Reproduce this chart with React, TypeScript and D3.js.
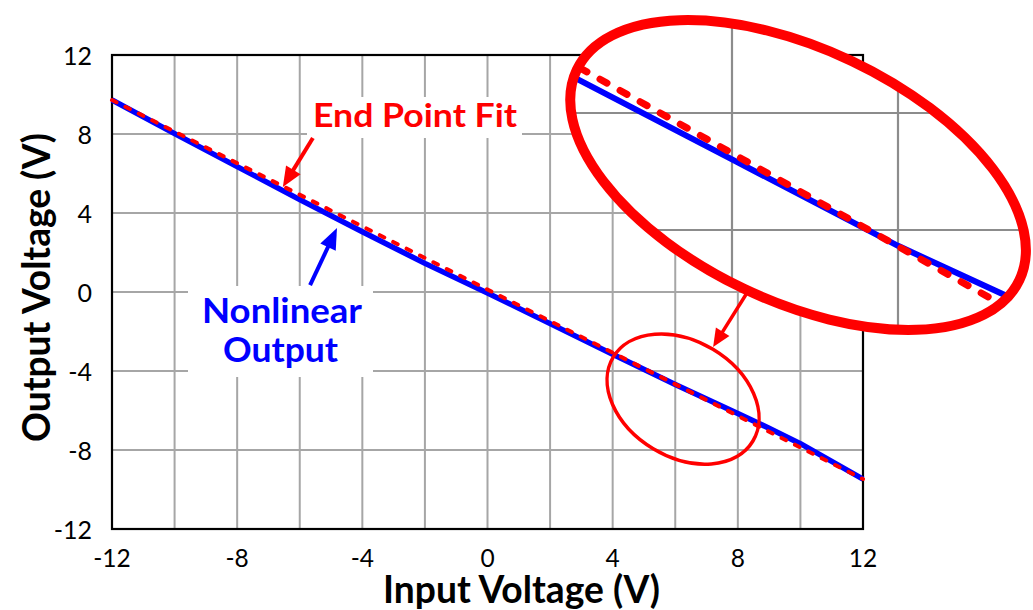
import React from 'react';
import * as d3 from 'd3';

const W = 1033;
const H = 610;

// Main chart data
const inputV = [-12, -10, -8, -6, -4, -2, 0, 2, 4, 6, 8, 9, 10, 12];
const nonlinearOut = [9.72, 8.02, 6.35, 4.68, 3.05, 1.45, -0.05, -1.6, -3.15, -4.68, -6.15, -6.9, -7.68, -9.47];
const fitInput = [-12, 12];
const fitOut = [9.72, -9.47];

const xTicks = [-12, -8, -4, 0, 4, 8, 12];
const yTicks = [-12, -8, -4, 0, 4, 8, 12];
const xGrid = [-10, -8, -6, -4, -2, 0, 2, 4, 6, 8, 10];
const yGrid = [-8, -4, 0, 4, 8];

// Magnified inset (own units, gridlines at integers)
const insetIn = [0.054, 1, 2, 2.747];
const insetNonlinear = [2.3, 1.604, 0.865, 0.376];
const insetFitIn = [0.084, 2.663];
const insetFitOut = [2.385, 0.333];
const insetXGrid = [1, 2];
const insetYGrid = [1, 2];

function arrow(x1: number, y1: number, x2: number, y2: number, L: number, hw: number) {
  const dx = x2 - x1, dy = y2 - y1;
  const d = Math.hypot(dx, dy);
  const ux = dx / d, uy = dy / d;
  const bx = x2 - ux * L, by = y2 - uy * L;
  const nx = -uy, ny = ux;
  return {
    line: { x1, y1, x2: bx + ux * 2, y2: by + uy * 2 },
    head: `${x2},${y2} ${bx + nx * hw},${by + ny * hw} ${bx - nx * hw},${by - ny * hw}`,
  };
}

export default function App() {
  const x = d3.scaleLinear().domain([-12, 12]).range([112, 863]);
  const y = d3.scaleLinear().domain([-12, 12]).range([529, 55]);
  const ix = d3.scaleLinear().domain([0, 1]).range([566, 732]);
  const iy = d3.scaleLinear().domain([0, 1]).range([347, 230]);

  const line = d3.line<number>().x((_, i) => x(inputV[i])).y((d) => y(d));
  const fitLine = d3.line<number>().x((_, i) => x(fitInput[i])).y((d) => y(d));
  const iLine = d3.line<number>().x((_, i) => ix(insetIn[i])).y((d) => iy(d));
  const iFit = d3.line<number>().x((_, i) => ix(insetFitIn[i])).y((d) => iy(d));

  const font = 'Lato, "Open Sans", sans-serif';

  const aRed = arrow(x(-5.58), y(7.8), x(-6.54), y(5.32), 20, 8.5);
  const aBlue = arrow(x(-5.67), y(0.35), x(-4.81), y(3.24), 21, 8.5);
  const aLink = arrow(x(8.29), y(-0.05), x(7.21), y(-2.78), 18, 8);

  const sCx = x(6.25), sCy = y(-5.42);
  const bCx = ix(1.398), bCy = iy(1.47);

  return (
    <div style={{ position: 'absolute', left: 0, top: 0 }}>
      <svg width={W} height={H} style={{ display: 'block', background: '#fff' }} fontFamily={font}>
        <defs>
          <clipPath id="bigClip">
            <ellipse cx={bCx} cy={bCy} rx={245} ry={126} transform={`rotate(25.4 ${bCx} ${bCy})`} />
          </clipPath>
        </defs>
        <rect width={W} height={H} fill="#fff" />
        {/* grid */}
        {xGrid.map((g) => (
          <line key={'xg' + g} x1={x(g)} x2={x(g)} y1={y(-12)} y2={y(12)} stroke="#a6a6a6" strokeWidth={2} />
        ))}
        {yGrid.map((g) => (
          <line key={'yg' + g} x1={x(-12)} x2={x(12)} y1={y(g)} y2={y(g)} stroke="#a6a6a6" strokeWidth={2} />
        ))}
        {/* frame */}
        <rect x={x(-12)} y={y(12)} width={x(12) - x(-12)} height={y(-12) - y(12)} fill="none" stroke="#000" strokeWidth={2.2} />
        {/* tick labels */}
        {yTicks.map((t) => (
          <text key={'yt' + t} x={92} y={y(t)} textAnchor="end" dominantBaseline="central" fontSize={25} fill="#000">
            {t}
          </text>
        ))}
        {xTicks.map((t) => (
          <text key={'xt' + t} x={x(t)} y={567} textAnchor="middle" fontSize={24.5} fill="#000">
            {t}
          </text>
        ))}
        {/* axis titles */}
        <text
          transform={`translate(50,287.5) rotate(-90)`}
          textAnchor="middle"
          fontSize={37.5}
          fontWeight="bold"
          textLength={309}
          lengthAdjust="spacingAndGlyphs"
          fill="#000"
        >
          Output Voltage (V)
        </text>
        <text x={383} y={603} fontSize={38} fontWeight="bold" textLength={277} lengthAdjust="spacingAndGlyphs" fill="#000">
          Input Voltage (V)
        </text>
        {/* data */}
        <path d={line(nonlinearOut) || ''} fill="none" stroke="#0000ff" strokeWidth={5.5} strokeLinejoin="round" />
        <path
          d={fitLine(fitOut) || ''}
          fill="none"
          stroke="#ff0000"
          strokeWidth={4}
          strokeDasharray="5,10"
          strokeLinecap="round"
        />
        {/* label boxes */}
        <rect x={307} y={97} width={215} height={41} fill="#fff" />
        <text x={313} y={127} fontSize={33} fontWeight="bold" fill="#ff0000" textLength={204} lengthAdjust="spacingAndGlyphs">
          End Point Fit
        </text>
        <rect x={188} y={286} width={185} height={91} fill="#fff" />
        <text x={202} y={323} fontSize={35} fontWeight="bold" fill="#0000ff" textLength={160} lengthAdjust="spacingAndGlyphs">
          Nonlinear
        </text>
        <text x={223} y={362} fontSize={35} fontWeight="bold" fill="#0000ff" textLength={115} lengthAdjust="spacingAndGlyphs">
          Output
        </text>
        {/* arrows */}
        <line {...aRed.line} stroke="#ff0000" strokeWidth={4} />
        <polygon points={aRed.head} fill="#ff0000" />
        <line {...aBlue.line} stroke="#0000ff" strokeWidth={4} />
        <polygon points={aBlue.head} fill="#0000ff" />
        <line {...aLink.line} stroke="#ff0000" strokeWidth={3.5} />
        <polygon points={aLink.head} fill="#ff0000" />
        {/* small ellipse */}
        <ellipse cx={sCx} cy={sCy} rx={81.5} ry={58} transform={`rotate(31 ${sCx} ${sCy})`} fill="none" stroke="#ff0000" strokeWidth={3.5} />
        {/* magnified inset */}
        <ellipse cx={bCx} cy={bCy} rx={245} ry={126} transform={`rotate(25.4 ${bCx} ${bCy})`} fill="#fff" />
        <g clipPath="url(#bigClip)">
          {insetXGrid.map((g) => (
            <line key={'ixg' + g} x1={ix(g)} x2={ix(g)} y1={0} y2={H} stroke="#8c8c8c" strokeWidth={2.2} />
          ))}
          {insetYGrid.map((g) => (
            <line key={'iyg' + g} x1={500} x2={W} y1={iy(g)} y2={iy(g)} stroke="#8c8c8c" strokeWidth={2.2} />
          ))}
          <path d={iLine(insetNonlinear) || ''} fill="none" stroke="#0000ff" strokeWidth={6} />
          <path
            d={iFit(insetFitOut) || ''}
            fill="none"
            stroke="#ff0000"
            strokeWidth={7}
            strokeDasharray="8,15"
            strokeLinecap="round"
          />
        </g>
        <ellipse cx={bCx} cy={bCy} rx={245} ry={126} transform={`rotate(25.4 ${bCx} ${bCy})`} fill="none" stroke="#ff0000" strokeWidth={10} />
      </svg>
    </div>
  );
}
